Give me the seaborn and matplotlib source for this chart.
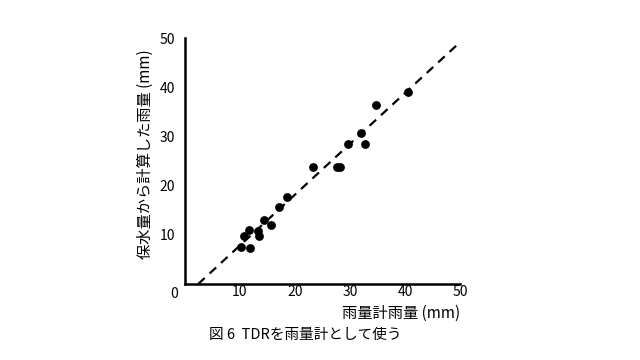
import matplotlib
matplotlib.use("Agg")
import matplotlib.pyplot as plt
import seaborn as sns
import pandas as pd

# gauge rainfall (x) vs rainfall computed from water storage (y), mm
gauge_mm = [10.1, 11.8, 10.8, 13.5, 11.7, 13.3, 14.3, 15.6, 17.1, 18.6,
            23.3, 27.6, 28.2, 29.7, 32.7, 32.0, 34.7, 40.6]
storage_mm = [7.5, 7.3, 9.8, 9.7, 10.9, 10.8, 13.1, 12.1, 15.6, 17.8,
              23.7, 23.7, 23.7, 28.4, 28.4, 30.8, 36.5, 39.0]
line_x = [2.4, 50.0]
line_y = [0.0, 49.2]

x_ticks = [10, 20, 30, 40, 50]
y_ticks = [10, 20, 30, 40, 50]

df = pd.DataFrame({"gauge": gauge_mm, "storage": storage_mm})
line_df = pd.DataFrame({"x": line_x, "y": line_y})

sns.set_style("white")
plt.rcParams["font.family"] = ["Noto Sans CJK JP", "DejaVu Sans"]
plt.rcParams["text.color"] = "black"
plt.rcParams["xtick.color"] = "black"
plt.rcParams["ytick.color"] = "black"

fig = plt.figure(figsize=(6.4, 3.6), dpi=100)
ax = fig.add_axes([0.289, 0.211, 0.430, 0.683])

sns.lineplot(data=line_df, x="x", y="y", ax=ax, color="black",
             linestyle=(0, (4, 3)), linewidth=1.6)
sns.scatterplot(data=df, x="gauge", y="storage", ax=ax, color="black",
                s=40, edgecolor="black", linewidth=0, zorder=3)

ax.set_xlim(0, 50)
ax.set_ylim(0, 50)
ax.set_xticks(x_ticks)
ax.set_yticks(y_ticks)
sns.despine(ax=ax)
for side in ["left", "bottom"]:
    ax.spines[side].set_linewidth(1.8)
    ax.spines[side].set_color("black")
ax.tick_params(axis="x", direction="in", length=4, width=1, labelsize=10, pad=1)
ax.tick_params(axis="y", direction="out", length=4, width=1, labelsize=10, pad=3)

ax.text(-0.025, -0.012, "0", transform=ax.transAxes, ha="right", va="top", fontsize=10)

ax.set_xlabel("")
ax.set_ylabel("")
ax.text(1.0, -0.118, "雨量計雨量 (mm)", transform=ax.transAxes, ha="right",
        va="center", fontsize=11)
ax.text(-0.145, 0.53, "保水量から計算した雨量 (mm)", transform=ax.transAxes,
        rotation=90, ha="center", va="center", fontsize=11)

fig.text(0.477, 0.07, "図 6  TDRを雨量計として使う", ha="center", va="center", fontsize=10.5)

fig.savefig("out.png", dpi=100)
